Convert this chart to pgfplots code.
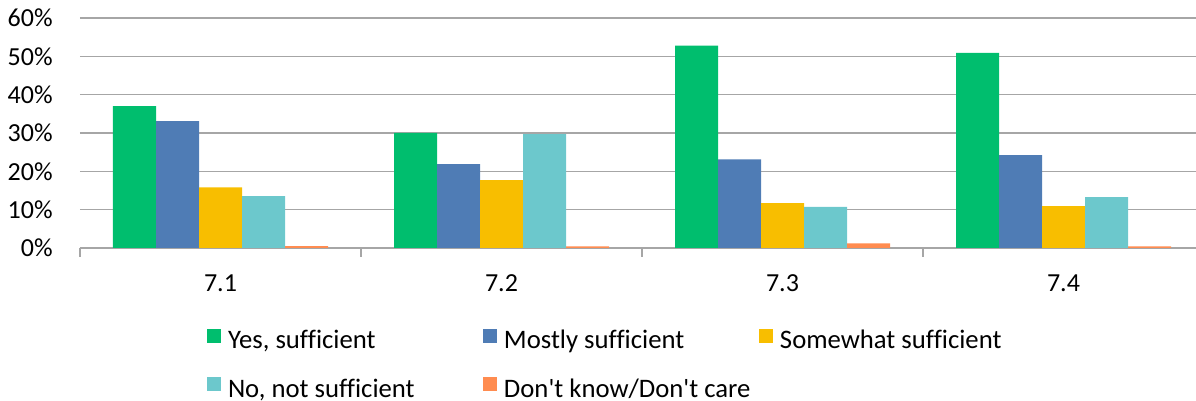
\documentclass[border=0pt]{standalone}
\usepackage{pgfplots}
\pgfplotsset{compat=1.18}
\usepackage{fontspec}
\setmainfont{Carlito}[Ligatures={NoCommon,TeXOff}]
\definecolor{cgreen}{RGB}{0,190,110}
\definecolor{cblue}{RGB}{79,124,181}
\definecolor{cyellow}{RGB}{248,190,0}
\definecolor{cteal}{RGB}{108,200,204}
\definecolor{corange}{RGB}{255,140,80}
\definecolor{cgrid}{RGB}{166,166,166}
\begin{document}
\fontsize{13pt}{15pt}\selectfont
\begin{tikzpicture}
\begin{axis}[
  at={(0,0)}, anchor=south west,
  scale only axis, width=558pt, height=115pt,
  xmin=-0.5, xmax=3.4715, ymin=0, ymax=60,
  ybar=0pt, bar width=21.5pt,
  xtick={0,1,2,3}, xticklabels={7.1,7.2,7.3,7.4},
  minor xtick={-0.5,0.5,1.5,2.5},
  ytick={0,10,20,30,40,50,60},
  yticklabels={0\%,10\%,20\%,30\%,40\%,50\%,60\%},
  major tick length=0pt, minor tick length=4.5pt,
  tick align=outside,
  minor tick style={cgrid, line width=0.75pt},
  axis x line*=bottom, axis y line*=left,
  x axis line style={cgrid, line width=0.75pt, -},
  y axis line style={draw=none},
  ymajorgrids, grid style={cgrid, line width=0.75pt},
  xticklabel style={anchor=base, inner sep=0pt, yshift=-22pt},
  yticklabel style={anchor=east, inner sep=0pt, xshift=-13.5pt},
  legend columns=3,
  legend style={at={(rel axis cs:0,0)}, anchor=north west, xshift=63.5pt, yshift=-40.35pt,
    draw=none, fill=none, inner sep=0pt, outer sep=0pt,
    font=\fontsize{13.35pt}{15pt}\selectfont,
    nodes={inner sep=0pt, text height=9pt, text depth=3pt},
    row sep=11.25pt,
    /tikz/every odd column/.append style={column sep=3.5pt},
    /tikz/every even column/.append style={column sep=0pt}},
  legend cell align=left,
  legend image code/.code={\fill[#1] (0pt,0pt) rectangle (7pt,7pt);},
]
\addplot[fill=cgreen, draw=none] coordinates {(0,37.0) (1,30.0) (2,52.8) (3,50.9)};
\addplot[fill=cblue, draw=none] coordinates {(0,33.1) (1,21.9) (2,23.1) (3,24.2)};
\addplot[fill=cyellow, draw=none] coordinates {(0,15.8) (1,17.7) (2,11.7) (3,10.9)};
\addplot[fill=cteal, draw=none] coordinates {(0,13.5) (1,29.7) (2,10.7) (3,13.3)};
\addplot[fill=corange, draw=none] coordinates {(0,0.5) (1,0.4) (2,1.2) (3,0.4)};
\addlegendentry{\makebox[127.5pt][l]{Yes, sufficient}}
\addlegendentry{\makebox[127.5pt][l]{Mostly sufficient}}
\addlegendentry{\makebox[127.5pt][l]{Somewhat sufficient}}
\addlegendentry{\makebox[127.5pt][l]{No, not sufficient}}
\addlegendentry{\makebox[127.5pt][l]{Don't know/Don't care}}
\end{axis}
\pgfresetboundingbox
\path (-40pt,-76.5pt) rectangle (558pt,124pt);
\end{tikzpicture}
\end{document}
